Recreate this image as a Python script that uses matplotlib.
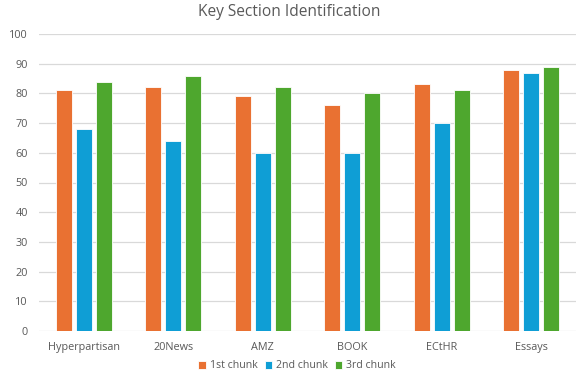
import matplotlib
matplotlib.use("Agg")
import matplotlib.pyplot as plt
import numpy as np

categories = ["Hyperpartisan", "20News", "AMZ", "BOOK", "ECtHR", "Essays"]
first_chunk = [81, 82, 79, 76, 83, 88]
second_chunk = [68, 64, 60, 60, 70, 87]
third_chunk = [84, 86, 82, 80, 81, 89]
series_names = ["1st chunk", "2nd chunk", "3rd chunk"]
colors = ["#E97132", "#0F9ED5", "#4EA72E"]

plt.rcParams["font.family"] = ["Open Sans", "DejaVu Sans"]
text_color = "#595959"

fig = plt.figure(figsize=(5.78, 3.76), dpi=100)
ax = fig.add_axes([39 / 578, 1 - 331 / 376, 537 / 578, 297 / 376])

x = np.arange(len(categories))
width = 0.18
step = 0.223
for i, (vals, name, c) in enumerate(zip([first_chunk, second_chunk, third_chunk], series_names, colors)):
    ax.bar(x + (i - 1) * step, vals, width, color=c, label=name,
           edgecolor="white", linewidth=0.6, zorder=3)

ax.set_xlim(-0.5, len(categories) - 0.5)
ax.set_ylim(0, 100)
ax.set_yticks(range(0, 101, 10))
ax.set_xticks(x)
ax.set_xticklabels(categories)
ax.grid(axis="y", color="#D9D9D9", linewidth=0.9, zorder=0)
for s in ax.spines.values():
    s.set_visible(False)
ax.tick_params(axis="both", length=0, labelsize=7.8, colors=text_color)
ax.tick_params(axis="x", pad=8)
ax.tick_params(axis="y", pad=8)

fig.text(0.5, 1 - 12.5 / 376, "Key Section Identification", ha="center", va="center",
         fontsize=11.2, color=text_color)

fig.legend(loc="center", bbox_to_anchor=(0.514, 1 - 366 / 376), ncol=3, frameon=False,
           fontsize=7.6, labelcolor=text_color, handlelength=0.7, handleheight=0.7,
           handletextpad=0.35, columnspacing=0.7)

fig.savefig("out.png", dpi=100)
